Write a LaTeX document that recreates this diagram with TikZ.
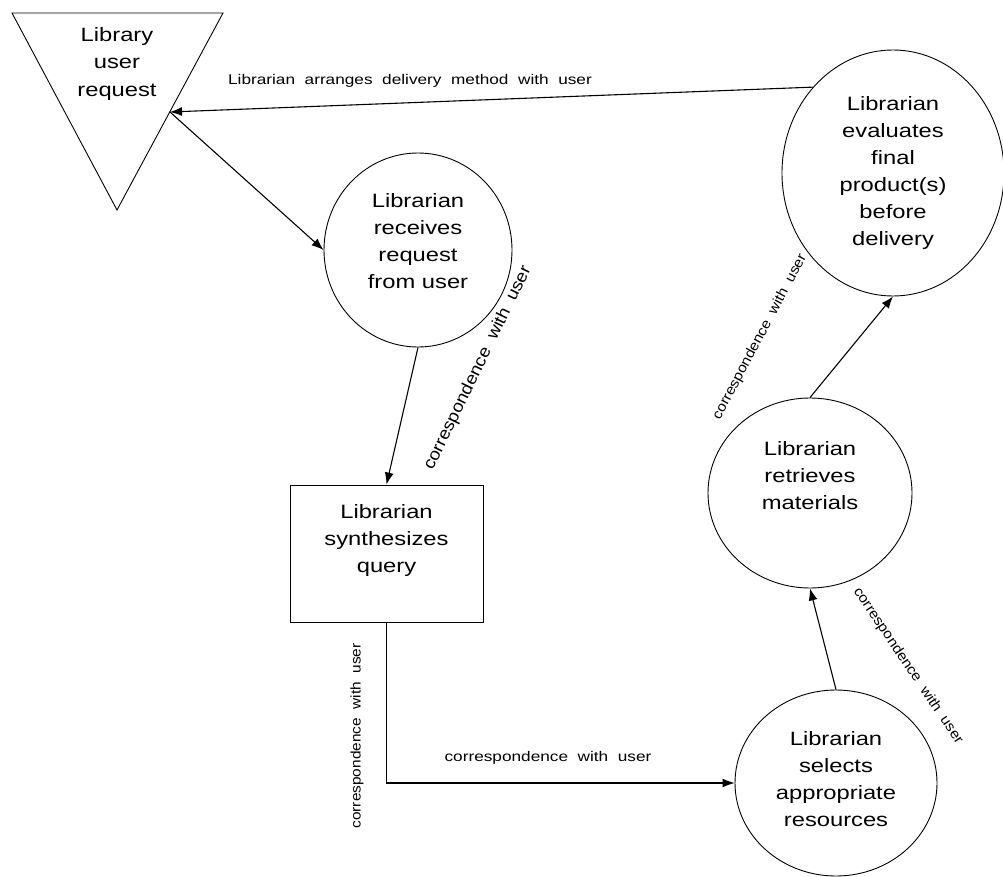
\documentclass[tikz,border=0pt]{standalone}
\usepackage{fontspec}
\setmainfont{Liberation Sans}
\newfontfamily\nodefont[FakeStretch=1.23]{Liberation Sans}
\newfontfamily\widelbl[FakeStretch=1.23]{Liberation Sans}
\newfontfamily\lblfont[FakeStretch=1.1]{Liberation Sans}
\usetikzlibrary{shapes.geometric,arrows.meta}
\begin{document}
\begin{tikzpicture}[x=1pt,y=-1pt,
  proc/.style={draw,line width=0.9pt,ellipse,inner sep=0pt,align=center,
    font=\nodefont\fontsize{19.3}{27}\selectfont},
  boxnode/.style={draw,line width=0.9pt,rectangle,inner sep=0pt,align=center,
    font=\nodefont\fontsize{19.3}{27}\selectfont},
  conn/.style={line width=1.1pt,-{Latex[length=12pt,width=9pt]}},
  lbl/.style={font=\lblfont\fontsize{14}{16}\selectfont,inner sep=0pt},
  wlbl/.style={font=\widelbl\fontsize{14}{16}\selectfont,inner sep=0pt}]
\useasboundingbox (0,0) rectangle (1003,877);
% triangle (library user request)
\draw[line width=0.9pt] (12,13) -- (223,13) -- (117,210) -- cycle;
\node[align=center,inner sep=0pt,font=\nodefont\fontsize{19.3}{27.5}\selectfont] (user) at (117,64) {Library\\user\\request};
\coordinate (userin) at (170,112);
% process nodes
\node[proc,minimum width=188pt,minimum height=194pt] (recv) at (418,250) {Librarian\\receives\\request\\from user\\[-9pt]};
\node[boxnode,minimum width=193pt,minimum height=137pt] (synth) at (386.5,553.5) {Librarian\\synthesizes\\query\\[2pt]};
\node[proc,minimum width=202pt,minimum height=186pt] (sel) at (836,783) {Librarian\\selects\\appropriate\\resources\\[-19pt]};
\node[proc,minimum width=204pt,minimum height=190pt] (retr) at (810,493) {Librarian\\retrieves\\materials\\[7pt]};
\node[proc,minimum width=222pt,minimum height=246pt] (eval) at (893,173) {Librarian\\evaluates\\final\\product(s)\\before\\delivery};
% connectors
\draw[conn] (eval.133) -- (userin);
\draw[conn] (userin) -- (recv.west);
\draw[conn] (recv.south) -- (synth.north);
\draw[conn] (synth.south) |- (sel.west);
\draw[conn] (sel.north) -- (retr.south);
\draw[conn] (retr.north) -- (eval.south);
% labels
\node[wlbl] (l1) at (410,81) {Librarian\ \ arranges\ \ delivery\ \ method\ \ with\ \ user};
\node[lbl,font=\lblfont\fontsize{17}{19}\selectfont,rotate=64] (l2) at (478,368) {correspondence\ \ with\ \ user};
\node[lbl,rotate=90] (l3) at (357,736) {correspondence\ \ with\ \ user};
\node[wlbl] (l4) at (548,758) {correspondence\ \ with\ \ user};
\node[lbl,rotate=-56] (l5) at (908,666) {correspondence\ \ with\ \ user};
\node[lbl,rotate=62] (l6) at (760,337) {correspondence\ \ with\ \ user};
\end{tikzpicture}
\end{document}
